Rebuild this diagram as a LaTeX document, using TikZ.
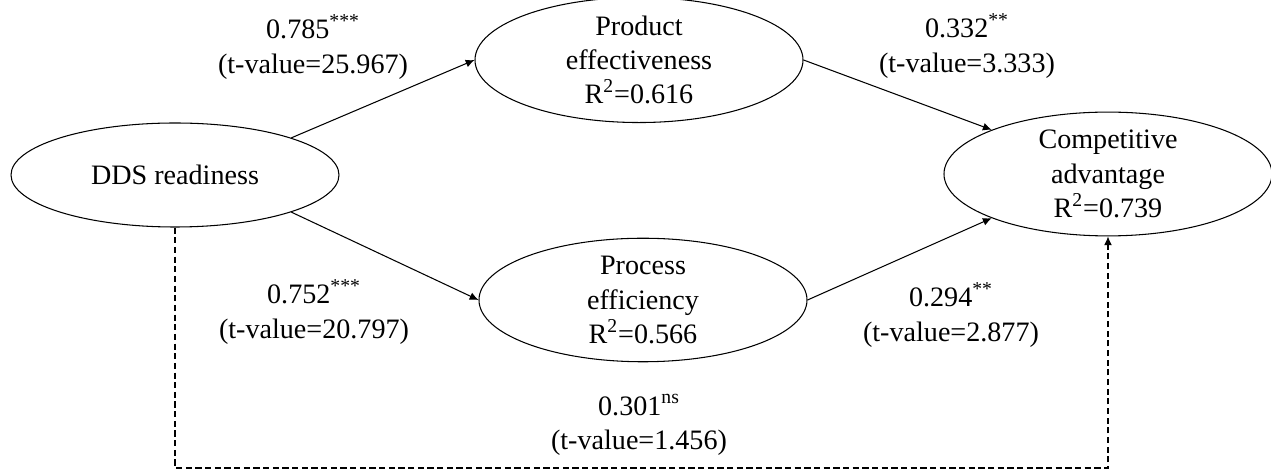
\documentclass[tikz,border=0pt]{standalone}
\usepackage{fontspec}
\setmainfont{Liberation Serif}
\usepackage{tikz}
\usetikzlibrary{shapes.geometric,arrows.meta}

\begin{document}
\begin{tikzpicture}[
    font=\fontsize{16}{19.5}\selectfont,
    construct/.style={draw, line width=0.6pt, ellipse, inner sep=0pt,
        minimum width=6.56cm, minimum height=2.08cm, align=center},
    path/.style={line width=0.6pt, -{Latex[length=5pt,width=4.5pt]}},
    nspath/.style={path, dash pattern=on 3.5pt off 2pt},
    coef/.style={align=center}]
\useasboundingbox (0,0) rectangle (25.42,9.44);
\node[construct] (dds)  at (3.5,5.94)   {DDS readiness};
\node[construct] (prod) at (12.78,8.24) {Product\\effectiveness\\R\textsuperscript{2}=0.616};
\node[construct] (proc) at (12.86,3.44) {Process\\efficiency\\R\textsuperscript{2}=0.566};
\node[construct] (comp) at (22.16,5.96) {Competitive\\advantage\\R\textsuperscript{2}=0.739};
% structural paths
\draw[path] (dds.north east) -- (prod.west);
\draw[path] (dds.south east) -- (proc.west);
\draw[path] (prod.east) -- (comp.north west);
\draw[path] (proc.east) -- (comp.south west);
\coordinate (c1) at (dds.south |- 0,0.08);
\coordinate (c2) at (comp.south |- 0,0.08);
\draw[nspath] (dds.south) -- (c1) -- (c2) -- (comp.south);
% coefficients
\foreach \n/\x/\y/\b/\s/\t in {a/6.26/8.5/0.785/***/25.967, b/19.34/8.52/0.332/**/3.333,
    c/6.28/3.2/0.752/***/20.797, d/19.02/3.14/0.294/**/2.877, e/12.78/0.94/0.301/ns/1.456}
    \node[coef] (lab\n) at (\x,\y) {\b\textsuperscript{\s}\\(t-value=\t)};
\end{tikzpicture}
\end{document}
